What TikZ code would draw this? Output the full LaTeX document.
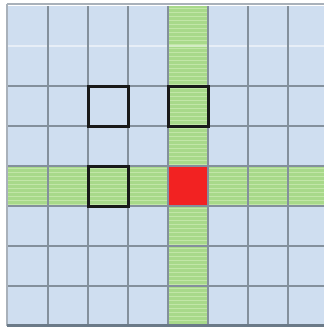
\documentclass[tikz,border=0pt]{standalone}
\definecolor{cellblue}{HTML}{CFDEF0}
\definecolor{gridgray}{HTML}{84909C}
\definecolor{cellgreen}{HTML}{A8D98A}
\definecolor{stripegreen}{HTML}{C2E6A8}
\definecolor{cellred}{HTML}{F22222}
\tikzset{
  bluecell/.style={fill=cellblue},
  greencell/.style={fill=cellgreen},
  redcell/.style={fill=cellred},
  gridline/.style={draw=gridgray,line width=2pt},
  outline/.style={draw=black!90,line width=3pt},
  stripe/.style={draw=stripegreen,line width=1pt}
}
\begin{document}
\begin{tikzpicture}[x=1pt,y=-1pt]
\useasboundingbox (0,0) rectangle (324,327);
\fill[white] (0,0) rectangle (324,327);
\begin{scope}
\clip (0,0) rectangle (324,327);
% blue background of grid
\fill[bluecell] (8,6) rectangle (328,326);
% green column and row
\fill[greencell] (168,6) rectangle (208,326);
\fill[greencell] (8,166) rectangle (328,206);
% stripes in green
\foreach \k in {0,...,79} {
  \draw[stripe] (169,{8+4*\k}) -- (207,{8+4*\k});
}
\foreach \k in {0,...,9} {
  \draw[stripe] (8,{168+4*\k}) -- (328,{168+4*\k});
}
% red cell
\fill[redcell] (168,166) rectangle (208,206);
% faint light line
\draw[white,opacity=0.5,line width=1.5pt] (8,46) -- (328,46);
% grid lines
\foreach \i in {48,88,128,168,208,248,288} {
  \draw[gridline] (\i,6) -- (\i,326);
}
\foreach \j in {86,126,166,206,246,286} {
  \draw[gridline] (8,\j) -- (328,\j);
}
\draw[draw=gridgray!70,line width=2.5pt] (7,4) -- (7,326);
\draw[draw=gridgray!70,line width=2pt] (7,4) -- (328,4);
\draw[draw=gridgray!120,line width=3pt] (7,325) -- (328,325);
\end{scope}
% outlined cells
\draw[outline] (88,86) rectangle (128,126);
\draw[outline] (168,86) rectangle (208,126);
\draw[outline] (88,166) rectangle (128,206);
\end{tikzpicture}
\end{document}
